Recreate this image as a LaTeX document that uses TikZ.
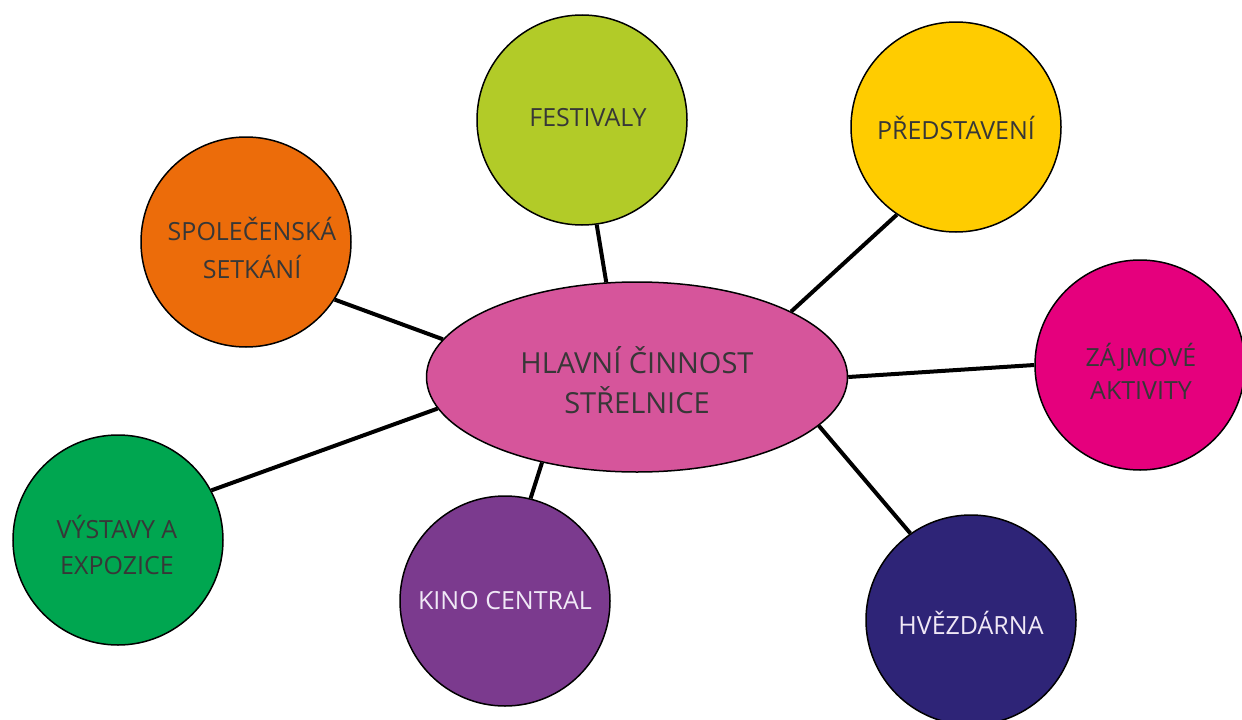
\documentclass[tikz,border=0pt]{standalone}
\usepackage{fontspec}
\setmainfont{Open Sans}
\usetikzlibrary{shapes.geometric}
\definecolor{cfest}{RGB}{178,203,40}
\definecolor{cpred}{RGB}{255,204,0}
\definecolor{cspol}{RGB}{236,108,10}
\definecolor{czaj}{RGB}{229,0,125}
\definecolor{cvyst}{RGB}{0,166,80}
\definecolor{ckino}{RGB}{123,58,142}
\definecolor{chvez}{RGB}{46,36,119}
\definecolor{cmain}{RGB}{214,85,155}
\definecolor{ctext}{RGB}{55,55,55}
\definecolor{ctextw}{RGB}{240,232,246}
\tikzset{
  bubble/.style={circle, draw=black, line width=1.5pt, minimum size=210pt, inner sep=0pt},
  hub/.style={ellipse, draw=black, line width=1.5pt, minimum width=421pt, minimum height=190pt, inner sep=0pt, fill=cmain},
  lbl/.style={text=ctext, align=center, inner sep=0pt, font=\fontsize{25}{38}\selectfont},
  link/.style={line width=4pt, black}
}
\begin{document}
\begin{tikzpicture}[x=1pt,y=-1pt]
\useasboundingbox (0,0) rectangle (1242,720);
\node[hub] (main) at (637,377) {};
\node[lbl, font=\fontsize{29}{40}\selectfont] (maint) at (637,380) {HLAVNÍ ČINNOST\\STŘELNICE};
\node[bubble, fill=cfest] (fest) at (582,120) {};
\node[bubble, fill=cpred] (pred) at (956,127) {};
\node[bubble, fill=cspol] (spol) at (246,242) {};
\node[bubble, fill=czaj] (zaj) at (1140,365) {};
\node[bubble, fill=cvyst] (vyst) at (118,540) {};
\node[bubble, fill=ckino] (kino) at (505,601) {};
\node[bubble, fill=chvez] (hvez) at (971,620) {};
\node[lbl] (festt) at (588,118) {FESTIVALY};
\node[lbl] (predt) at (956,128) {PŘEDSTAVENÍ};
\node[lbl] (spolt) at (252,248) {SPOLEČENSKÁ\\SETKÁNÍ};
\node[lbl, font=\fontsize{25}{33}\selectfont] (zajt) at (1141,371) {ZÁJMOVÉ\\AKTIVITY};
\node[lbl, font=\fontsize{25}{36}\selectfont] (vystt) at (117,545) {VÝSTAVY A\\EXPOZICE};
\node[lbl, text=ctextw] (kinot) at (505,601) {KINO CENTRAL};
\node[lbl, text=ctextw] (hvezt) at (971,623) {HVĚZDÁRNA};
\draw[link] (fest.-82) -- (main.108);
\draw[link] (pred.-124) -- (main.23);
\draw[link] (spol.-33) -- (main.169);
\draw[link] (zaj.180) -- (main.0);
\draw[link] (vyst.28) -- (main.189);
\draw[link] (kino.76) -- (main.-138);
\draw[link] (hvez.125) -- (main.-15);
\end{tikzpicture}
\end{document}
